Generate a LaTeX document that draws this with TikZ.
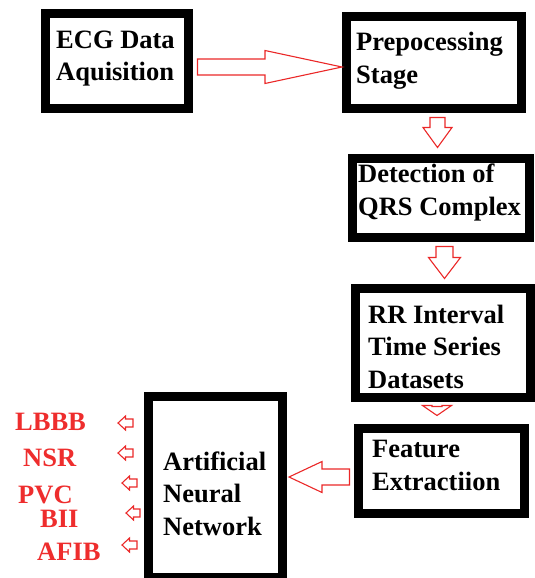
\documentclass[tikz,border=0pt]{standalone}
\usepackage{fontspec}
\setmainfont{Liberation Serif}
\usetikzlibrary{calc}
\definecolor{arrred}{RGB}{235,40,40}
\definecolor{lblred}{RGB}{238,45,45}
% horizontal/vertical hollow block arrow: tail, tip, shaft half width, head half width, head length
\newcommand\harr[5]{\draw[arr] let \p1=#1, \p2=#2, \n1={sign(\x2-\x1)} in
  (\x1,{\y1+#3}) -- ({\x2-\n1*#5},{\y1+#3}) -- ({\x2-\n1*#5},{\y1+#4}) -- (\x2,\y2)
  -- ({\x2-\n1*#5},{\y1-#4}) -- ({\x2-\n1*#5},{\y1-#3}) -- (\x1,{\y1-#3}) -- cycle;}
\newcommand\varr[5]{\draw[arr] let \p1=#1, \p2=#2, \n1={sign(\y2-\y1)} in
  ({\x1+#3},\y1) -- ({\x1+#3},{\y2-\n1*#5}) -- ({\x1+#4},{\y2-\n1*#5}) -- (\x2,\y2)
  -- ({\x1-#4},{\y2-\n1*#5}) -- ({\x1-#3},{\y2-\n1*#5}) -- ({\x1-#3},\y1) -- cycle;}
\begin{document}
\begin{tikzpicture}[x=1pt,y=-1pt,
  box/.style={draw=black,line width=9pt,fill=white,inner sep=0pt,rectangle},
  txt/.style={anchor=base west,inner sep=0pt,align=left,
    font=\fontsize{26.5}{32.5}\selectfont\bfseries},
  lbl/.style={anchor=base west,inner sep=0pt,text=lblred,
    font=\fontsize{26.5}{32}\selectfont\bfseries},
  arr/.style={draw=arrred,line width=1.1pt,line join=miter,fill=white}]
\useasboundingbox (0,0) rectangle (535,578);
% boxes
\node[box,minimum width=143pt,minimum height=95pt] (b1) at (117,61) {};
\node[box,minimum width=175pt,minimum height=92pt] (b2) at (434,62.5) {};
\node[box,minimum width=177pt,minimum height=79pt] (b3) at (441,198) {};
\node[box,minimum width=175pt,minimum height=109pt] (b4) at (443,343) {};
\node[box,minimum width=166pt,minimum height=85pt] (b5) at (441.5,471) {};
\node[box,minimum width=134pt,minimum height=181pt] (ann) at (215.5,487) {};
% texts (base anchor = baseline of last line)
\node[txt] (t1) at (56,81) {ECG Data\\Aquisition};
\node[txt] (t2) at (356,83) {Prepocessing\\Stage};
\node[txt] (t3) at (358,215) {Detection of\\QRS Complex};
\node[txt] (t4) at (368,388) {RR Interval\\Time Series\\Datasets};
\node[txt] (t5) at (372,490) {Feature\\Extractiion};
\node[txt] (t6) at (163,535) {Artificial\\Neural\\Network};
% output labels
\node[lbl] (l1) at (15,430) {LBBB};
\node[lbl] (l2) at (23,466) {NSR};
\node[lbl] (l3) at (18,503) {PVC};
\node[lbl] (l4) at (40,527) {BII};
\node[lbl] (l5) at (37,560) {AFIB};
% connectors
\harr{($(b1.east |- 0,67)+(4.5,0)$)}{(b2.west |- 0,67)}{8pt}{16.5pt}{77pt}
\varr{($(b2.south -| 437.5,0)+(0,4.5)$)}{($(b3.north -| 437.5,0)+(0,-6.5)$)}{7.5pt}{14.5pt}{20pt}
\varr{($(b3.south -| 444.5,0)+(0,4.5)$)}{($(b4.north -| 444.5,0)+(0,-5.5)$)}{8.5pt}{16pt}{21pt}
\varr{($(b4.south -| 437,0)+(0,4.5)$)}{($(b5.north -| 437,0)+(0,-8.5)$)}{5pt}{14.5pt}{10pt}
\harr{($(b5.west |- 0,477)+(-4.5,0)$)}{($(ann.east |- 0,477)+(2,0)$)}{8pt}{15.5pt}{33pt}
% small output arrows
\harr{(133,423)}{(118,423)}{4pt}{7pt}{7.5pt}
\harr{(133,453)}{(118,453)}{4pt}{7pt}{7.5pt}
\harr{(137,483)}{(122,483)}{4pt}{7pt}{7.5pt}
\harr{(140,513)}{(126,513)}{4pt}{7pt}{7.5pt}
\harr{(137,545)}{(122,545)}{4pt}{7pt}{7.5pt}
\end{tikzpicture}
\end{document}
